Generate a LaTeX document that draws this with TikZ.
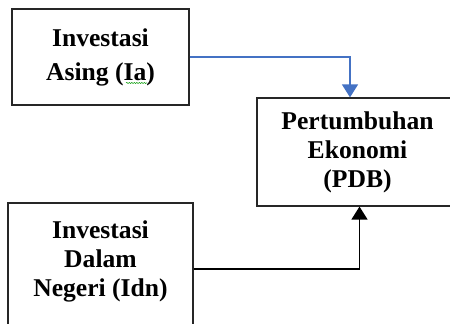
\documentclass[tikz,border=0pt]{standalone}
\usepackage{fontspec}
\setmainfont{Liberation Serif}
\usetikzlibrary{positioning,arrows.meta,decorations.pathmorphing}

\definecolor{arrowblue}{RGB}{68,114,196}

\tikzset{
	box/.style={draw=black!85, line width=1.2pt, align=center, inner sep=0pt,
		font=\bfseries\fontsize{25.6}{29}\selectfont},
	boxtext/.style={align=center, inner sep=0pt,
		font=\bfseries\fontsize{25.6}{29}\selectfont},
}

\begin{document}
\begin{tikzpicture}[x=1pt, y=1pt]
	\useasboundingbox (0,0) rectangle (450,324);
	% Investasi Asing
	\node[box, minimum width=177pt, minimum height=96pt] (ia) at (100.5,267) {Investasi\\[5pt]Asing (Ia)};
	\draw[green!60!black, line width=0.5pt, decorate,
		decoration={snake, segment length=2.5pt, amplitude=0.6pt}] (126,241) -- (147,241);
	% Pertumbuhan Ekonomi
	\node[box, minimum width=201pt, minimum height=108pt] (pdb) at (357.5,172) {Pertumbuhan\\Ekonomi\\(PDB)};
	% Investasi Dalam Negeri
	\node[box, minimum width=185pt, minimum height=132pt] (idn) at (100.5,55) {};
	\node[boxtext, below=18pt of idn.north] (idntext) {Investasi\\Dalam\\Negeri (Idn)};
	% connectors
	\draw[arrowblue, line width=1.3pt, -{Triangle[width=16pt,length=13pt]}]
		(ia.east) -| ([xshift=-7.5pt]pdb.north);
	\draw[black, line width=1.4pt, -{Triangle[width=16pt,length=13pt]}]
		(idn.east) -| ([xshift=2pt]pdb.south);
\end{tikzpicture}
\end{document}
